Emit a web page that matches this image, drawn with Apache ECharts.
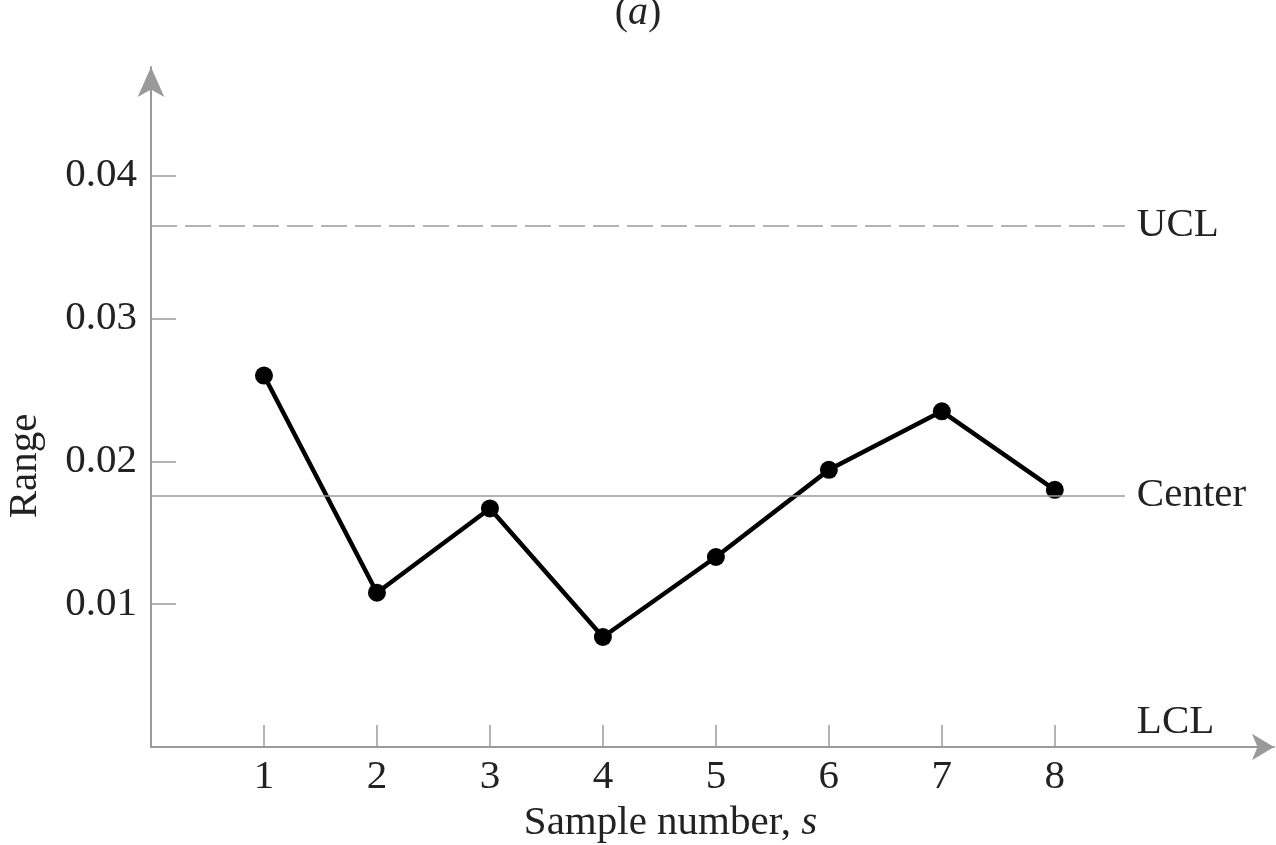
<!DOCTYPE html>
<html>
<head>
<meta charset="utf-8">
<script src="https://cdn.jsdelivr.net/npm/echarts@6/dist/echarts.min.js"></script>
<style>
  html, body { margin: 0; padding: 0; background: #fff; }
  #main { width: 1276px; height: 845px; }
</style>
</head>
<body>
<div id="main"></div>
<script>
// sample number and range of each sample
let samples = [1, 2, 3, 4, 5, 6, 7, 8];
let ranges = [0.0260, 0.0108, 0.0167, 0.0077, 0.0133, 0.0194, 0.0235, 0.0180];
// control limits
let center = 0.0176;
let ucl = 0.0365;
let lcl = 0;
let yTicks = [0.01, 0.02, 0.03, 0.04];

window.addEventListener('load', function () {
    let chart = echarts.init(document.getElementById('main'));
    let font = '"Liberation Serif", "DejaVu Serif", serif';
    let gray = '#9a9a9a';
    let lineEnd = 8.62;

    let option = {
        animation: false,
        title: {
            text: '({i|a})',
            left: 'center',
            top: -12,
            textStyle: {
                fontFamily: font, fontSize: 40, fontWeight: 'normal', color: '#222',
                rich: { i: { fontFamily: font, fontSize: 40, fontStyle: 'italic', color: '#222' } }
            }
        },
        grid: { left: 151, right: 2, top: 67, bottom: 98, outerBoundsMode: 'none' },
        xAxis: {
            type: 'value',
            min: 0,
            max: 9.94,
            interval: 1,
            splitLine: { show: false },
            axisLine: {
                lineStyle: { color: gray, width: 2 },
                symbol: ['none', 'arrow'],
                symbolSize: [20, 22]
            },
            axisTick: {
                inside: true, length: 22,
                customValues: samples,
                lineStyle: { color: gray, width: 1.5 }
            },
            axisLabel: {
                customValues: samples,
                margin: 10,
                fontFamily: font, fontSize: 41, color: '#222'
            },
            name: 'Sample number, {i|s}',
            nameLocation: 'middle',
            nameGap: 54,
            nameTextStyle: {
                fontFamily: font, fontSize: 41, color: '#222',
                padding: [0, 84, 0, 0],
                rich: { i: { fontFamily: font, fontSize: 41, fontStyle: 'italic', color: '#222' } }
            }
        },
        yAxis: {
            type: 'value',
            min: 0,
            max: 0.0476,
            interval: 0.01,
            splitLine: { show: false },
            axisLine: {
                lineStyle: { color: gray, width: 2 },
                symbol: ['none', 'arrow'],
                symbolSize: [20, 30]
            },
            axisTick: {
                inside: true, length: 25,
                customValues: yTicks,
                lineStyle: { color: gray, width: 1.5 }
            },
            axisLabel: {
                customValues: yTicks,
                margin: 14,
                fontFamily: font, fontSize: 41, color: '#222',
                formatter: function (v) { return v.toFixed(2); }
            },
            name: 'Range',
            nameLocation: 'middle',
            nameRotate: 90,
            nameGap: 105,
            nameTextStyle: {
                fontFamily: font, fontSize: 41, color: '#222',
                padding: [0, 118, 0, 0]
            }
        },
        series: [{
            type: 'line',
            data: samples.map(function (s, i) { return [s, ranges[i]]; }),
            symbol: 'circle',
            symbolSize: 18,
            itemStyle: { color: '#000' },
            lineStyle: { color: '#000', width: 4.5 },
            markLine: {
                silent: true,
                symbol: 'none',
                label: {
                    position: 'end', distance: 12,
                    fontFamily: font, fontSize: 41, color: '#222'
                },
                data: [
                    [{ coord: [0, ucl], lineStyle: { type: [26, 8], color: gray, width: 1.5 }, label: { formatter: 'UCL' } },
                     { coord: [lineEnd, ucl] }],
                    [{ coord: [0, center], lineStyle: { type: 'solid', color: gray, width: 1.5 }, label: { formatter: 'Center' } },
                     { coord: [lineEnd, center] }],
                    [{ coord: [0, lcl], lineStyle: { color: 'rgba(0,0,0,0)', width: 0 }, label: { formatter: 'LCL', color: '#222', offset: [0, -25] } },
                     { coord: [lineEnd, lcl] }]
                ]
            }
        }]
    };
    chart.setOption(option);
}, false);
</script>
</body>
</html>
